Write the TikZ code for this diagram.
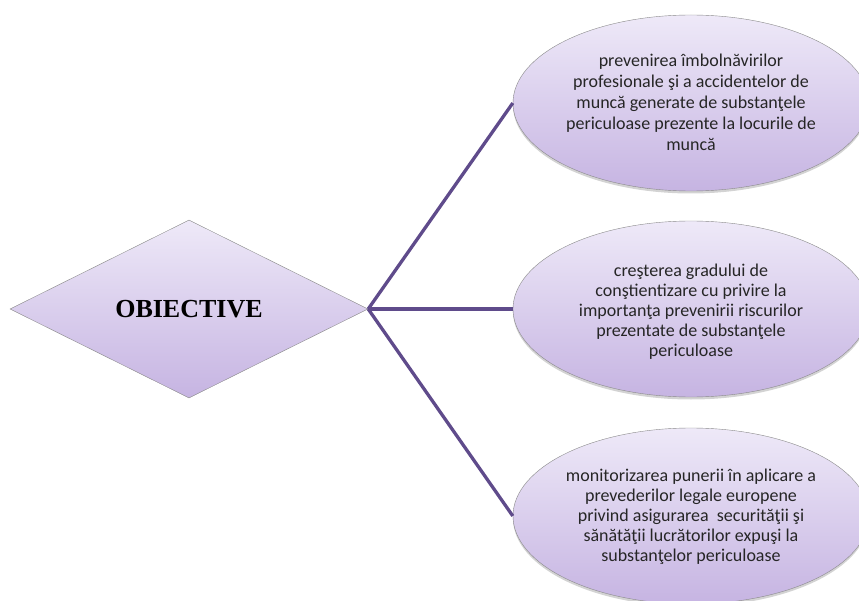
\documentclass[tikz,border=0pt]{standalone}
\usepackage{fontspec}
\setmainfont{Carlito}
\newfontfamily\headfont{Liberation Serif}
\usetikzlibrary{shapes.geometric, shadows}
\definecolor{lilaclight}{HTML}{EEE9F8}
\definecolor{lilacdark}{HTML}{C6B4E2}
\definecolor{branchcol}{HTML}{5F4B8B}
\definecolor{rimcol}{HTML}{8A8A8A}
\definecolor{inkcol}{HTML}{262626}
\tikzset{
  goal/.style = {ellipse, draw=rimcol, top color=lilaclight, bottom color=lilacdark,
                 minimum width=356pt, minimum height=176pt, inner sep=0pt,
                 drop shadow={opacity=0.35, shadow xshift=0pt, shadow yshift=-2.5pt}},
  goaltext/.style = {align=center, inner sep=0pt, text=inkcol, font=\fontsize{18}{20}\selectfont},
  head/.style = {diamond, draw=rimcol, top color=lilaclight, bottom color=lilacdark,
                 minimum width=358pt, minimum height=178pt, inner sep=0pt, aspect=2,
                 font=\headfont\bfseries\fontsize{26}{30}\selectfont},
  branch/.style = {draw=branchcol, line width=3.3pt}
}

\begin{document}
\begin{tikzpicture} [x = 1pt, y = -1pt]
\useasboundingbox (0,0) rectangle (859,601);
\node[head] (obj) at (189,309) {OBIECTIVE};
\node[goal] (g1) at (691,103) {};
\node[goal] (g2) at (691,309) {};
\node[goal] (g3) at (691,516) {};
\node[goaltext, font=\fontsize{18}{21}\selectfont] (t1) at ([yshift=1pt]g1.center) {prevenirea îmbolnăvirilor\\ profesionale şi a accidentelor de\\ muncă generate de substanţele\\ periculoase prezente la locurile de\\ muncă};
\node[goaltext] (t2) at ([yshift=-3pt]g2.center) {creşterea gradului de\\ conştientizare cu privire la\\ importanţa prevenirii riscurilor\\ prezentate de substanţele\\ periculoase};
\node[goaltext] (t3) at ([yshift=-1pt]g3.center) {monitorizarea punerii în aplicare a\\ prevederilor legale europene\\ privind asigurarea\ \ securităţii şi\\ sănătăţii lucrătorilor expuşi la\\ substanţelor periculoase};
\draw [branch] (obj.east) -- (g1.west);
\draw [branch] (obj.east) -- (g2.west);
\draw [branch] (obj.east) -- (g3.west);
\end{tikzpicture}
\end{document}
